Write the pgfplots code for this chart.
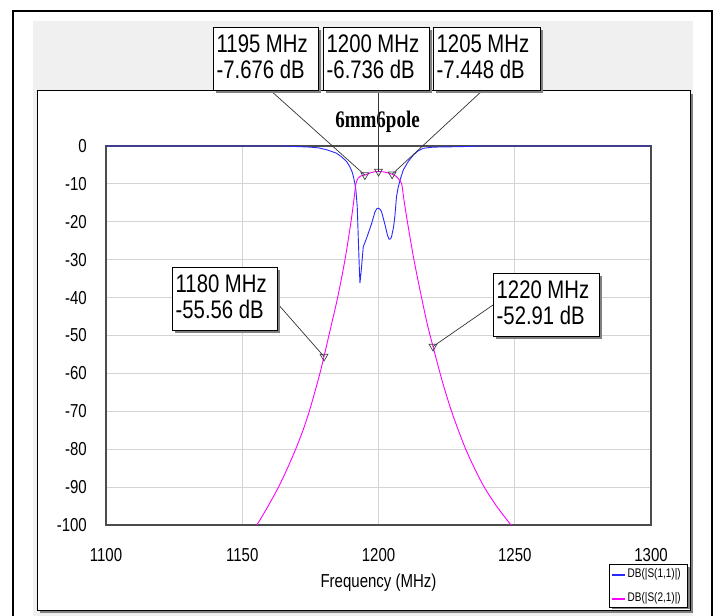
\documentclass[border=0pt]{standalone}
\usepackage{pgfplots}
\pgfplotsset{compat=1.18}
\usepackage{fontspec}
\setmainfont{Liberation Sans}
\newfontfamily\serifb{Liberation Serif}
\newcommand\sca[1]{\scalebox{1}[1.25]{#1}}
\definecolor{sblue}{RGB}{40,40,255}
\definecolor{smag}{RGB}{255,0,255}
\definecolor{bgray}{RGB}{240,240,240}
\definecolor{shad}{RGB}{128,128,128}
\newcommand\callout[5]{%
  \fill[shad] (#1+3,616-#2-3) rectangle (#1+#3+3,616-#2-63-3);
  \filldraw[fill=white,draw=black,line width=0.9] (#1,616-#2) rectangle (#1+#3,616-#2-63);
  \node[anchor=base west,inner sep=0,font=\fontsize{20.3bp}{24bp}\selectfont] at (#1+3.5,616-#2-26) {\sca{#4}};
  \node[anchor=base west,inner sep=0,font=\fontsize{20.3bp}{24bp}\selectfont] at (#1+3.5,616-#2-52) {\sca{#5}};
}
\begin{document}
\begin{tikzpicture}[x=1bp,y=1bp]
\useasboundingbox (0,0) rectangle (716,616);
\fill[white] (0,0) rectangle (716,616);
\fill[bgray] (33,0) rectangle (693,595);
\draw[black, line width=1.5] (13,-2) -- (13,605) -- (712,605) -- (712,-2);
\fill[shad] (40,3) rectangle (693,522);
\filldraw[fill=white, draw=black, line width=1] (37,6) rectangle (690,525);
\begin{axis}[
  at={(106bp,91bp)}, anchor=south west,
  scale only axis, width=545bp, height=379bp,
  xmin=1100, xmax=1300, ymin=-100, ymax=0,
  clip=false,
  xtick={1100,1150,1200,1250,1300},
  xticklabels={\sca{1100},\sca{1150},\sca{1200},\sca{1250},\sca{1300}},
  ytick={-100,-90,-80,-70,-60,-50,-40,-30,-20,-10,0},
  yticklabels={\sca{-100},\sca{-90},\sca{-80},\sca{-70},\sca{-60},\sca{-50},\sca{-40},\sca{-30},\sca{-20},\sca{-10},\sca{0}},
  major tick length=0pt,
  tick label style={font=\fontsize{15bp}{18bp}\selectfont, inner sep=0pt},
  xticklabel style={anchor=north, yshift=-23bp},
  yticklabel style={anchor=east, xshift=-19bp},
  grid=major,
  grid style={draw=black!17, line width=0.8bp},
  axis line style={draw=black!70, line width=1.1bp},
  xlabel={\sca{Frequency (MHz)}},
  xlabel style={at={(axis description cs:0.5,0)}, anchor=base, yshift=-63bp, inner sep=0pt, font=\fontsize{15bp}{18bp}\selectfont},
  title={\serifb\bfseries\sca{6mm6pole}},
  title style={at={(axis description cs:0.4982,1)}, anchor=base, yshift=13bp, inner sep=0pt, font=\fontsize{19bp}{22bp}\selectfont},
]
\addplot[draw=sblue, line width=0.9bp] coordinates {
(1100,0) (1165,0) (1170,-0.15) (1175,-0.3) (1178,-0.5) (1181,-1.0) (1183,-1.5)
(1184.6,-1.9) (1186.5,-2.9) (1188.3,-4.1) (1189.5,-5.5) (1190.3,-6.8) (1190.8,-8.1)
(1191.3,-9.8) (1191.7,-11.6) (1192.2,-16) (1192.6,-24.8) (1193.0,-33) (1193.2,-36.2)
(1193.5,-34) (1193.8,-31.8) (1194.4,-26.6) (1195.6,-24.4) (1196.5,-22.5) (1197.5,-20.4)
(1198.6,-17.6) (1199.3,-16.6) (1199.9,-16.4) (1200.6,-16.7) (1201.1,-17.3) (1202.4,-20.8)
(1203.3,-23.6) (1203.9,-24.6) (1204.4,-24.5) (1204.8,-23.9) (1205.5,-21.5) (1206,-18.6)
(1206.6,-13.4) (1207.2,-11) (1207.9,-9) (1209.1,-6.3) (1210.9,-4.1) (1212.8,-2.4)
(1214.5,-1.3) (1216.5,-0.6) (1220,-0.3) (1228,-0.2) (1234,-0.1) (1236,0) (1300,0)
};
\addplot[draw=smag, line width=0.9bp, smooth, tension=0.5] coordinates {
(1155.4,-100) (1159.5,-95) (1163.3,-90) (1166.6,-85) (1169.6,-80) (1172.3,-75)
(1174.6,-70) (1176.6,-65) (1178.5,-60) (1180,-55.56) (1182.6,-47.5) (1185,-40)
(1187.7,-30) (1189.9,-20) (1191.0,-14) (1191.7,-10) (1192.5,-8.5) (1193.5,-7.9)
(1195,-7.676) (1197,-7.1) (1198.5,-6.8) (1200,-6.736) (1201.5,-6.8) (1203,-7.0)
(1205,-7.448) (1206.5,-8.0) (1207.5,-8.8) (1208.5,-10) (1209.3,-14) (1210.6,-20)
(1213,-30) (1215.8,-40) (1217.9,-47) (1220,-52.91) (1222.6,-60) (1224.6,-65)
(1226.8,-70) (1229.3,-75) (1232,-80) (1235.2,-85) (1238.8,-90) (1243.3,-95) (1248.6,-100)
};
\addplot[only marks, mark=triangle, mark size=4.5bp,
  mark options={rotate=180, draw=black!75, line width=0.7bp, fill=none}] coordinates {
(1180,-55.56) (1195,-7.676) (1200,-6.736) (1205,-7.448) (1220,-52.91)};
\coordinate (m1180) at (axis cs:1180,-55.56);
\coordinate (m1195) at (axis cs:1195,-7.676);
\coordinate (m1200) at (axis cs:1200,-6.736);
\coordinate (m1205) at (axis cs:1205,-7.448);
\coordinate (m1220) at (axis cs:1220,-52.91);
\end{axis}
% legend
\fill[shad] (612,6.5) rectangle (690,49);
\filldraw[fill=white, draw=black, line width=0.8] (609,9) rectangle (687,52);
\draw[sblue, line width=1.2] (612,41) -- (625,41);
\draw[smag, line width=1.2] (612,17) -- (625,17);
\node[anchor=west, inner sep=0, font=\fontsize{10bp}{12bp}\selectfont] at (627.5,41.5) {\sca{DB(|S(1,1)|)}};
\node[anchor=west, inner sep=0, font=\fontsize{10bp}{12bp}\selectfont] at (627.5,17.5) {\sca{DB(|S(2,1)|)}};
% callouts
\draw[black!80, line width=0.7] (270,526) -- (m1195);
\draw[black!80, line width=0.7] (m1200 |- 0,526) -- (m1200);
\draw[black!80, line width=0.7] (483,526) -- (m1205);
\draw[black!80, line width=0.7] (277,313) -- (m1180);
\draw[black!80, line width=0.7] (493,311) -- (m1220);
\callout{213}{27}{105}{1195 MHz}{-7.676 dB}
\callout{323}{27}{106}{1200 MHz}{-6.736 dB}
\callout{433}{27}{107}{1205 MHz}{-7.448 dB}
\callout{172}{267}{105}{1180 MHz}{-55.56 dB}
\callout{493}{273}{106}{1220 MHz}{-52.91 dB}
\end{tikzpicture}
\end{document}
